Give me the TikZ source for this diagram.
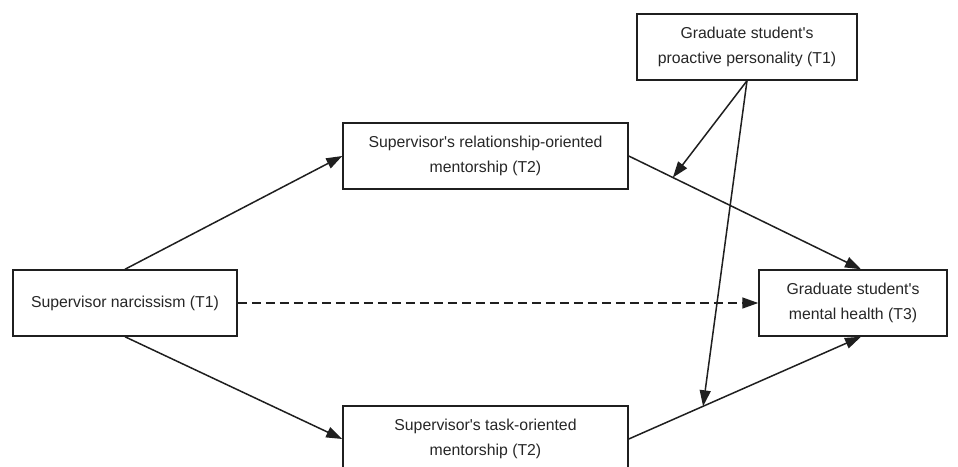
\documentclass[tikz,border=0pt]{standalone}
\usepackage{fontspec}
\setmainfont{Liberation Sans}
\usetikzlibrary{positioning, arrows.meta, calc}
\tikzset{
        my-box/.style={
            draw, rectangle, line width=1.5pt, align=center, minimum height=66pt,
            font=\fontsize{15.8}{24.5}\selectfont, inner sep=0pt, text=black!85
        },
        my-arrow/.style={
            line width=1.5pt, -{Triangle[length=16pt, width=11pt]}
        },
}

\begin{document}
\begin{tikzpicture}[x=1pt, y=-1pt, color=black!88]

        \useasboundingbox (0,0) rectangle (958,466);
        \clip (0,0) rectangle (958,466);

        %DRAW NODES (placed relative to the narcissism box)
        \node [my-box, minimum width=224pt] (NARC) at (125,303)               {Supervisor narcissism (T1)};
        \node [my-box, minimum width=285pt] (REL)  at ($(NARC)+(360.5,-147)$) {Supervisor\textquotesingle s relationship-oriented\\mentorship (T2)};
        \node [my-box, minimum width=285pt] (TASK) at ($(NARC)+(360.5,136)$)  {Supervisor\textquotesingle s task-oriented\\mentorship (T2)};
        \node [my-box, minimum width=220pt] (PRO)  at ($(NARC)+(622,-256)$)   {Graduate student\textquotesingle s\\proactive personality (T1)};
        \node [my-box, minimum width=188pt] (MH)   at ($(NARC)+(728,0)$)      {Graduate student\textquotesingle s\\mental health (T3)};

        % CONNECT NARCISSISM
        \draw [my-arrow] (NARC.north) -- (REL.west);
        \draw [my-arrow] (NARC.south) -- (TASK.west);
        \draw [my-arrow, dash pattern=on 9pt off 5pt] (NARC.east) -- (MH.west);

        % CONNECT MENTORSHIP TO OUTCOME
        \draw [my-arrow] (REL.east)  -- coordinate[pos=0.19] (M1) ([xshift=8pt]MH.north);
        \draw [my-arrow] (TASK.east) -- coordinate[pos=0.32] (M2) ([xshift=8pt]MH.south);

        % CONNECT MODERATOR
        \draw [my-arrow] (PRO.south) -- (M1);
        \draw [my-arrow] (PRO.south) -- (M2);

\end{tikzpicture}
\end{document}
